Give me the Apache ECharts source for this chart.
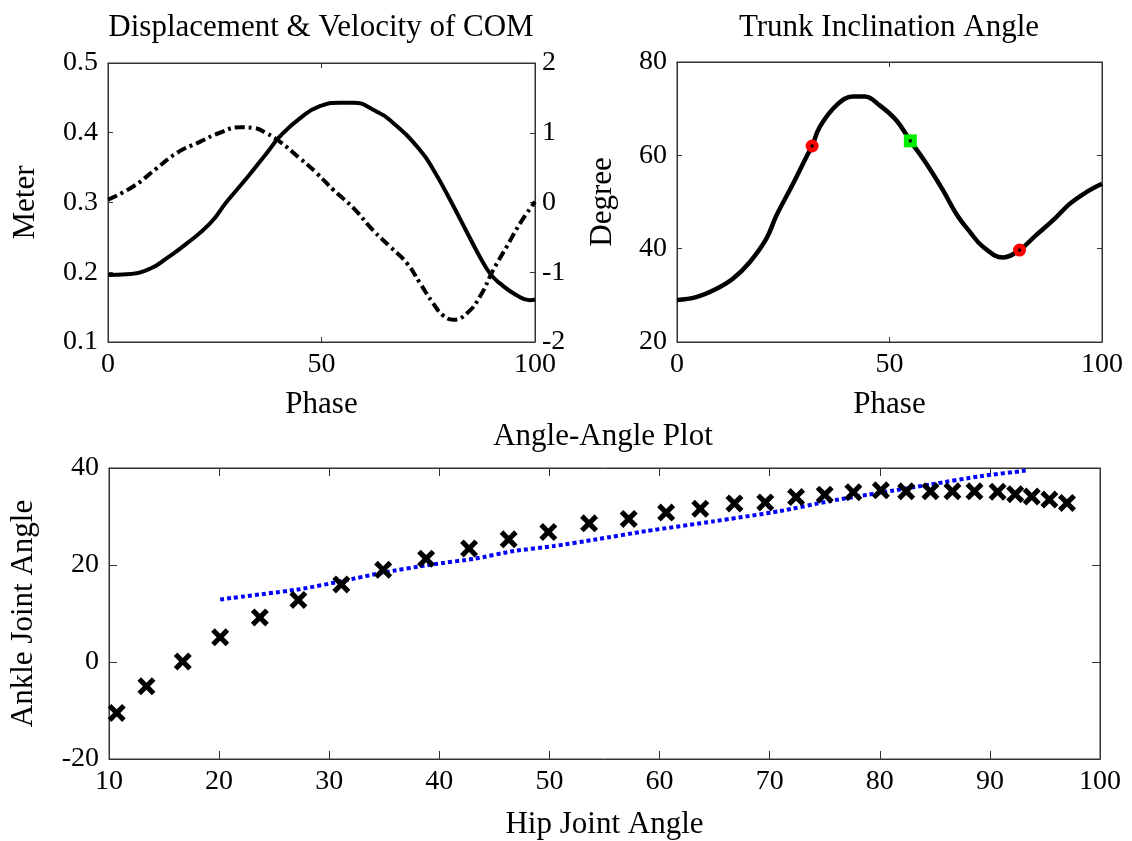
<!DOCTYPE html>
<html>
<head>
<meta charset="utf-8">
<script src="https://cdn.jsdelivr.net/npm/echarts@6/dist/echarts.min.js"></script>
<style>html,body{margin:0;padding:0;background:#fff;}#c{width:1132px;height:841px;}</style>
</head>
<body>
<div id="c"></div>
<script>
// ---- Data ----
const dispPhase = [0,4.4,9.8,13.7,18.4,23.9,27.8,32.5,37.2,40.3,45,49.6,54.3,57.5,62.1,66.8,73.1,76.2,80.1,84,87.1,89.5,91.8,95.7,98.8,100];
const dispValue = [0.196,0.197,0.205,0.22,0.241,0.27,0.301,0.335,0.371,0.395,0.421,0.438,0.443,0.443,0.433,0.414,0.375,0.347,0.304,0.258,0.222,0.198,0.184,0.167,0.16,0.161];

const velPhase = [0,5.9,11.4,16.1,21.5,26.2,30.9,34,37.2,40.3,45,48.9,52.8,57.5,62.1,66,70,73.1,76.2,78.5,80.9,84,87.1,90.2,93.4,96.5,100];
const velValue = [0.04,0.23,0.49,0.71,0.87,1.0,1.08,1.07,0.99,0.87,0.63,0.42,0.18,-0.08,-0.40,-0.63,-0.87,-1.16,-1.45,-1.62,-1.68,-1.59,-1.35,-0.97,-0.63,-0.30,0.01];

const trunkPhase = [0,4.5,9.3,13.2,17.1,21,23.4,27.3,30.4,31.8,33.6,37.5,41.4,44.2,47.7,51.6,54.9,58.7,62.6,65.7,68.9,72,76.7,80.6,84.5,88.5,92.4,96.3,100];
const trunkValue = [29.0,29.6,31.4,33.6,37.1,42.1,47.1,53.9,59.6,62,66.1,70.7,72.6,72.6,70.7,67.5,63.1,58.2,52.5,47.5,43.6,40.4,38.1,39.7,42.9,46.1,49.6,52.1,53.9];
const redPhase = [31.8, 80.6];
const redValue = [62.0, 39.7];
const greenPhase = [54.9];
const greenValue = [63.1];

const hipAngle = [10.7,13.4,16.7,20.1,23.7,27.2,31.1,34.9,38.8,42.7,46.3,49.9,53.6,57.2,60.6,63.7,66.8,69.6,72.4,75.0,77.6,80.1,82.4,84.6,86.6,88.6,90.7,92.3,93.8,95.4,97.0];
const ankleAngle = [-10.5,-5.0,0.1,5.1,9.2,12.8,16.0,19.0,21.3,23.4,25.3,26.8,28.6,29.5,30.8,31.6,32.7,32.9,34.0,34.5,35.0,35.4,35.2,35.2,35.2,35.2,35.1,34.6,34.1,33.5,32.8];

const fitHip = [20.1,27.3,31.2,34.8,39.3,43.2,46.8,50.4,54.3,58.8,64.9,70.9,75.5,80.0,84.6,89.1,93.4];
const fitAnkle = [12.9,15.0,16.7,18.4,20.1,21.3,22.9,23.9,25.3,27.0,29.0,31.1,33.2,34.9,36.6,38.3,39.5];

const titles = ['Displacement & Velocity of COM', 'Trunk Inclination Angle', 'Angle-Angle Plot'];

// ---- Build ----
const FONT = 'Liberation Serif';
const AX = '#333';
const NAME_SIZE = 31;
const pairs = (xs, ys) => xs.map((x, i) => [x, ys[i]]);

function valAxis(o) {
  const base = {
    type: 'value',
    splitLine: { show: false },
    axisLine: { show: true, onZero: false, lineStyle: { color: AX, width: 1 } },
    axisTick: { show: true, inside: true, length: o.tickLen || 5, lineStyle: { color: AX } },
    axisLabel: { show: o.labels !== false, color: '#000', fontFamily: FONT, fontSize: 28, margin: o.margin || 9, showMinLabel: true, showMaxLabel: true },
    nameTextStyle: { color: '#000', fontFamily: FONT, fontSize: NAME_SIZE },
    nameLocation: 'middle'
  };
  return Object.assign(base, o.extra);
}

const XPATH = 'path://M0,4 L4,0 L10,6 L16,0 L20,4 L14,10 L20,16 L16,20 L10,14 L4,20 L0,16 L6,10 Z';

const option = {
  backgroundColor: '#fff',
  animation: false,
  graphic: [
    { type: 'text', x: 321, y: 28, style: { text: titles[0], fontFamily: FONT, fontSize: NAME_SIZE, fill: '#000', align: 'center', verticalAlign: 'middle' } },
    { type: 'text', x: 889, y: 28, style: { text: titles[1], fontFamily: FONT, fontSize: NAME_SIZE, fill: '#000', align: 'center', verticalAlign: 'middle' } },
    { type: 'text', x: 603, y: 437, style: { text: titles[2], fontFamily: FONT, fontSize: NAME_SIZE, fill: '#000', align: 'center', verticalAlign: 'middle' } }
  ],
  grid: [
    { left: 108, top: 63, width: 427, height: 279, show: true, borderColor: AX, borderWidth: 1 },
    { left: 677, top: 62, width: 425, height: 280, show: true, borderColor: AX, borderWidth: 1 },
    { left: 107, top: 468, width: 993, height: 292, show: true, borderColor: AX, borderWidth: 1 }
  ],
  xAxis: [
    valAxis({ extra: { gridIndex: 0, min: 0, max: 100, interval: 50, position: 'bottom', name: 'Phase', nameGap: 47 } }),
    valAxis({ labels: false, extra: { gridIndex: 0, min: 0, max: 100, interval: 50, position: 'top' } }),
    valAxis({ extra: { gridIndex: 1, min: 0, max: 100, interval: 50, position: 'bottom', name: 'Phase', nameGap: 47 } }),
    valAxis({ labels: false, extra: { gridIndex: 1, min: 0, max: 100, interval: 50, position: 'top' } }),
    valAxis({ tickLen: 8, extra: { gridIndex: 2, min: 10, max: 100, interval: 10, position: 'bottom', name: 'Hip Joint Angle', nameGap: 50 } }),
    valAxis({ tickLen: 8, labels: false, extra: { gridIndex: 2, min: 10, max: 100, interval: 10, position: 'top' } })
  ],
  yAxis: [
    valAxis({ margin: 10, extra: { gridIndex: 0, min: 0.1, max: 0.5, interval: 0.1, position: 'left', name: 'Meter', nameGap: 67 } }),
    valAxis({ margin: 7, extra: { gridIndex: 0, min: -2, max: 2, interval: 1, position: 'right' } }),
    valAxis({ margin: 10, extra: { gridIndex: 1, min: 20, max: 80, interval: 20, position: 'left', name: 'Degree', nameGap: 59 } }),
    valAxis({ labels: false, extra: { gridIndex: 1, min: 20, max: 80, interval: 20, position: 'right' } }),
    valAxis({ tickLen: 8, margin: 10, extra: { gridIndex: 2, min: -20, max: 40, interval: 20, position: 'left', name: 'Ankle Joint Angle', nameGap: 70 } }),
    valAxis({ tickLen: 8, labels: false, extra: { gridIndex: 2, min: -20, max: 40, interval: 20, position: 'right' } })
  ],
  series: [
    { type: 'line', xAxisIndex: 0, yAxisIndex: 0, data: pairs(dispPhase, dispValue), smooth: 0.5, showSymbol: false,
      lineStyle: { color: '#000', width: 4 } },
    { type: 'line', xAxisIndex: 0, yAxisIndex: 1, data: pairs(velPhase, velValue), smooth: 0.5, showSymbol: false,
      lineStyle: { color: '#000', width: 4, type: [10, 4, 3, 4] } },
    { type: 'line', xAxisIndex: 2, yAxisIndex: 2, data: pairs(trunkPhase, trunkValue), smooth: 0.4, showSymbol: false,
      lineStyle: { color: '#000', width: 4.5 } },
    { type: 'scatter', xAxisIndex: 2, yAxisIndex: 2, data: pairs(redPhase, redValue), symbol: 'circle', symbolSize: 13,
      itemStyle: { color: '#ff0000', opacity: 1 }, z: 5 },
    { type: 'scatter', xAxisIndex: 2, yAxisIndex: 2, data: pairs(greenPhase, greenValue), symbol: 'rect', symbolSize: 13,
      itemStyle: { color: '#00ee00', opacity: 1 }, z: 5 },
    { type: 'scatter', xAxisIndex: 2, yAxisIndex: 2, data: pairs(redPhase, redValue).concat(pairs(greenPhase, greenValue)), symbol: 'rect', symbolSize: 3,
      itemStyle: { color: '#000', opacity: 1 }, z: 6 },
    { type: 'line', xAxisIndex: 4, yAxisIndex: 4, data: pairs(fitHip, fitAnkle), smooth: 0.2, showSymbol: false,
      lineStyle: { color: '#0000ff', width: 4, type: [4, 3] } },
    { type: 'scatter', xAxisIndex: 4, yAxisIndex: 4, data: pairs(hipAngle, ankleAngle), symbol: XPATH, symbolSize: 18,
      itemStyle: { color: '#000', opacity: 1 }, z: 4 }
  ]
};

const chart = echarts.init(document.getElementById('c'), null, { renderer: 'canvas' });
chart.setOption(option);
</script>
</body>
</html>
